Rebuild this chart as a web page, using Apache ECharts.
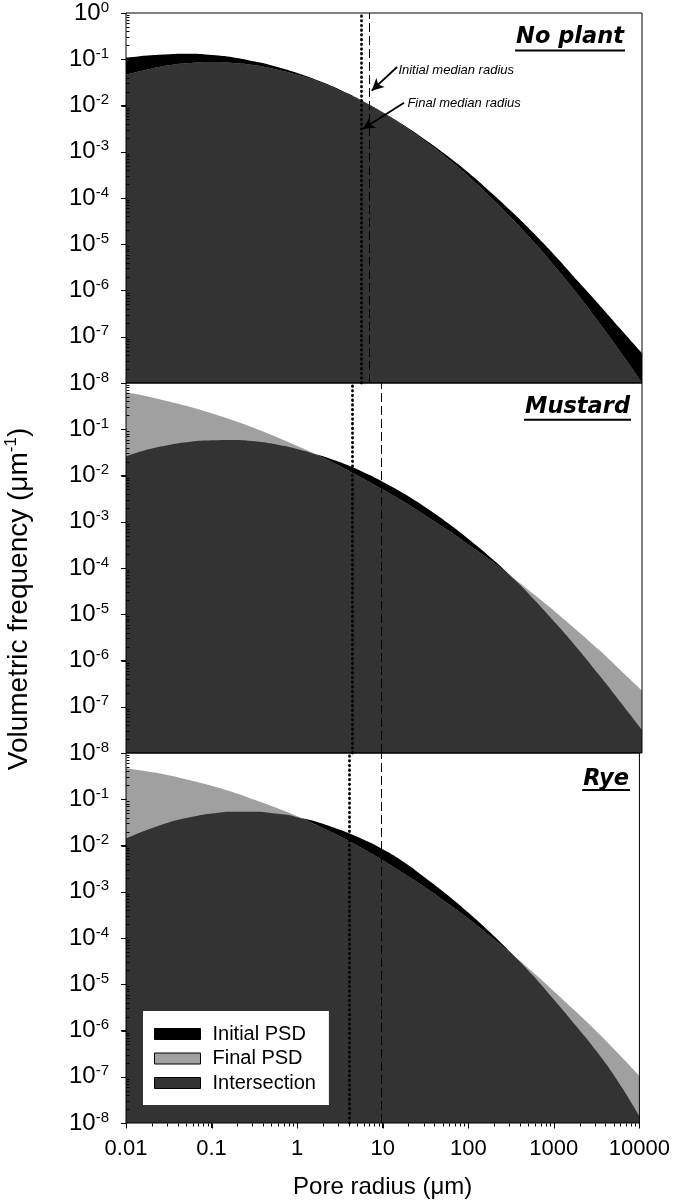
<!DOCTYPE html>
<html><head><meta charset="utf-8">
<script src="https://cdn.jsdelivr.net/npm/echarts@6/dist/echarts.min.js"></script>
<style>html,body{margin:0;padding:0;background:#fff}#chart{width:673px;height:1204px}</style>
</head><body><div id="chart"></div>
<script>
// ---------- DATA ----------
const radius = [0.01, 0.0178, 0.0316, 0.0562, 0.1, 0.178, 0.316, 0.562, 1, 1.78, 3.16, 5.62, 10,
  17.8, 31.6, 56.2, 100, 178, 316, 562, 1000, 1780, 3160, 5620, 10000];
const panelNames = ['No plant', 'Mustard', 'Rye'];
// log10 of volumetric frequency (µm^-1)
const noPlantInitialLog = [-0.97, -0.92, -0.89, -0.88, -0.91, -0.96, -1.05, -1.16, -1.30, -1.47, -1.67, -1.90, -2.16,
  -2.45, -2.77, -3.11, -3.48, -3.89, -4.32, -4.78, -5.27, -5.79, -6.30, -6.83, -7.35];
const noPlantFinalLog = [-1.33, -1.22, -1.13, -1.08, -1.06, -1.08, -1.13, -1.22, -1.34, -1.49, -1.69, -1.91, -2.17,
  -2.47, -2.80, -3.16, -3.56, -4.00, -4.47, -4.97, -5.51, -6.08, -6.69, -7.33, -8.00];
const mustardInitialLog = [-1.59, -1.44, -1.34, -1.27, -1.24, -1.23, -1.26, -1.33, -1.43, -1.56, -1.72, -1.92, -2.15,
  -2.41, -2.71, -3.04, -3.40, -3.79, -4.22, -4.69, -5.20, -5.74, -6.31, -6.90, -7.50];
const mustardFinalLog = [-0.20, -0.29, -0.40, -0.52, -0.66, -0.81, -0.98, -1.17, -1.37, -1.58, -1.81, -2.06, -2.32,
  -2.59, -2.89, -3.19, -3.52, -3.85, -4.21, -4.58, -4.96, -5.36, -5.77, -6.21, -6.65];
const ryeInitialLog = [-1.85, -1.66, -1.50, -1.39, -1.31, -1.27, -1.27, -1.31, -1.39, -1.50, -1.66, -1.85, -2.08,
  -2.36, -2.70, -3.06, -3.45, -3.87, -4.32, -4.80, -5.33, -5.88, -6.45, -7.10, -7.85];
const ryeFinalLog = [-0.33, -0.40, -0.48, -0.59, -0.71, -0.85, -1.01, -1.18, -1.37, -1.58, -1.80, -2.05, -2.32,
  -2.61, -2.91, -3.24, -3.58, -3.95, -4.33, -4.73, -5.15, -5.58, -6.02, -6.49, -6.98];
const initialMedian = [6.8, 9.4, 9.7];
const finalMedian = [5.4, 4.3, 4.1];
const xTickLabels = ['0.01', '0.1', '1', '10', '100', '1000', '10000'];
const legendNames = ['Initial PSD', 'Final PSD', 'Intersection'];
const annotationTexts = ['Initial median radius', 'Final median radius'];

// ---------- BUILD ----------
const initialLogs = [noPlantInitialLog, mustardInitialLog, ryeInitialLog];
const finalLogs = [noPlantFinalLog, mustardFinalLog, ryeFinalLog];
const FONT = '"Liberation Sans", Arial, sans-serif';
const COL = { initial: '#000000', final: '#a0a0a0', inter: '#333333' };
const GRID_TOPS = [13, 383, 753];
const GRID_H = 370, GRID_L = 126, GRID_W = 516;
const X_MIN = 0.01, X_MAX = 10000, Y_MIN = 1e-8, Y_MAX = 1;

// tick values (decades and 2..9 within each decade)
const majorX = [], minorX = [], majorY = [], minorY = [];
for (let e = -2; e <= 4; e++) majorX.push(+Math.pow(10, e).toPrecision(3));
for (let e = -8; e <= 0; e++) majorY.push(+Math.pow(10, e).toPrecision(3));
for (let e = -2; e < 4; e++) for (let k = 2; k <= 9; k++) minorX.push(+(k * Math.pow(10, e)).toPrecision(3));
for (let e = -8; e < 0; e++) for (let k = 2; k <= 9; k++) minorY.push(+(k * Math.pow(10, e)).toPrecision(3));

const grid = GRID_TOPS.map(t => ({ left: GRID_L, width: GRID_W, top: t, height: GRID_H,
  show: true, borderColor: '#000', borderWidth: 1, backgroundColor: 'transparent', z: 6 }));

const xAxis = [], yAxis = [];
GRID_TOPS.forEach((t, p) => {
  const last = p === 2;
  xAxis.push({ type: 'log', logBase: 10, gridIndex: p, min: X_MIN, max: X_MAX, splitNumber: 6, position: 'bottom',
    splitLine: { show: false },
    axisLine: { show: false, onZero: false },
    axisTick: { show: last, length: 5, lineStyle: { color: '#000' } },
    axisLabel: { show: last, margin: 15, fontSize: 22, fontFamily: FONT, color: '#000',
      formatter: v => xTickLabels[Math.round(Math.log10(v)) + 2] },
    name: last ? 'Pore radius (μm)' : '', nameLocation: 'middle', nameGap: 52,
    nameTextStyle: { fontSize: 24, fontFamily: FONT, color: '#000' } });
  yAxis.push({ type: 'log', logBase: 10, gridIndex: p, min: Y_MIN, max: Y_MAX, splitNumber: 8, position: 'left',
    splitLine: { show: false },
    axisLine: { show: false, onZero: false },
    axisTick: { show: true, length: 5, lineStyle: { color: '#000' } },
    axisLabel: { margin: 17, color: '#000',
      formatter: v => { const e = Math.round(Math.log10(v)); if (p > 0 && e === 0) return ''; return '{b|10}{s|' + e + '}'; },
      rich: { b: { fontSize: 24, fontFamily: FONT, color: '#000', lineHeight: 26 },
              s: { fontSize: 15, fontFamily: FONT, color: '#000', verticalAlign: 'top', lineHeight: 14 } } } });
});

function area(name, data, color, p, z) {
  return { name, type: 'line', xAxisIndex: p, yAxisIndex: p, data, smooth: true, symbol: 'none', showSymbol: false,
    silent: true, z, color, itemStyle: { color }, lineStyle: { width: 0, color },
    areaStyle: { color, opacity: 1, origin: Y_MIN } };
}

// tick marks drawn through the axes' scales (custom series)
function tickSeries(p, values, dir, len) {
  const data = values.map(v => dir === 'x' ? [v, Y_MIN] : [X_MIN, v]);
  return { type: 'custom', xAxisIndex: p, yAxisIndex: p, data, silent: true, clip: false, z: 10,
    renderItem: (params, api) => {
      const pt = api.coord([api.value(0), api.value(1)]);
      const x = Math.round(pt[0]) + 0.5, y = Math.round(pt[1]) + 0.5;
      const shape = dir === 'x' ? { x1: x, y1: y, x2: x, y2: y + len } : { x1: x + len, y1: y, x2: x, y2: y };
      return { type: 'line', shape, style: { stroke: '#000', lineWidth: 1 } };
    } };
}

const series = [];
panelNames.forEach((nm, p) => {
  const init = radius.map((r, i) => [r, Math.pow(10, initialLogs[p][i])]);
  const fin = radius.map((r, i) => [r, Math.pow(10, finalLogs[p][i])]);
  const inter = radius.map((r, i) => [r, Math.min(init[i][1], fin[i][1])]);
  series.push(area(legendNames[0], init, COL.initial, p, 2));
  series.push(area(legendNames[1], fin, COL.final, p, 3));
  const s = area(legendNames[2], inter, COL.inter, p, 4);
  const mlData = [
    { xAxis: finalMedian[p], lineStyle: { type: [0.5, 4.2], cap: 'round', width: 2.8, color: '#000' } },
    { xAxis: initialMedian[p], lineStyle: { type: [9, 4], width: 1, color: '#000' } }
  ];
  if (p === 0) {
    mlData.push([{ coord: [14.2, 0.068], symbol: 'none', lineStyle: { width: 1.8, color: '#000', type: 'solid' } },
                 { coord: [7.19, 0.0209], symbol: 'arrow', symbolSize: [9, 12] }]);
    mlData.push([{ coord: [17.1, 0.0115], symbol: 'none', lineStyle: { width: 1.8, color: '#000', type: 'solid' } },
                 { coord: [5.65, 0.0031], symbol: 'arrow', symbolSize: [9, 12] }]);
    s.markPoint = { silent: true, symbol: 'circle', symbolSize: 0,
      label: { show: true, position: 'right', distance: 0, formatter: '{b}', fontStyle: 'italic', fontSize: 13,
        fontFamily: FONT, color: '#000' },
      data: [{ name: annotationTexts[0], coord: [14.7, 0.0577] }, { name: annotationTexts[1], coord: [18.7, 0.0112] }] };
  }
  s.markLine = { silent: true, symbol: 'none', label: { show: false }, emphasis: { disabled: true }, data: mlData };
  series.push(s);
  // y ticks: major outward, minor inward
  series.push(tickSeries(p, majorY, 'y', -5));
  series.push(tickSeries(p, minorY, 'y', 3));
});
// x ticks on the bottom panel (outward)
series.push(tickSeries(2, majorX, 'x', 5));
series.push(tickSeries(2, minorX, 'x', 3));

// panel titles with underline
const TITLE_FONT_SIZE = 22.5;
const titleRight = [624, 630, 629];
const titleY = [36.7, 406.7, 779.2];
const underlineY = [49.5, 418.8, 789];
const ctx = document.createElement('canvas').getContext('2d');
ctx.font = 'italic bold ' + TITLE_FONT_SIZE + 'px "DejaVu Sans"';
const graphic = [];
panelNames.forEach((nm, p) => {
  const w = ctx.measureText(nm).width;
  graphic.push({ type: 'text', x: titleRight[p], y: titleY[p], z: 20,
    style: { text: nm, fontSize: TITLE_FONT_SIZE, fontWeight: 'bold', fontStyle: 'italic', fontFamily: '"DejaVu Sans"',
      fill: '#000', align: 'right', verticalAlign: 'middle' } });
  graphic.push({ type: 'rect', z: 20, shape: { x: titleRight[p] - w - 1, y: underlineY[p], width: w + 2, height: 2 },
    style: { fill: '#000' } });
});
graphic.push({ type: 'text', x: 19, y: 599, rotation: Math.PI / 2, z: 20,
  style: { text: '{a|Volumetric frequency (μm}{s|-1}{a|)}', align: 'center', verticalAlign: 'middle',
    rich: { a: { fontSize: 28, fontFamily: FONT, fill: '#000', lineHeight: 32 },
            s: { fontSize: 17, fontFamily: FONT, fill: '#000', verticalAlign: 'top', lineHeight: 16 } } } });

const chart = echarts.init(document.getElementById('chart'), null, { renderer: 'canvas' });
chart.setOption({
  backgroundColor: '#fff',
  animation: false,
  grid, xAxis, yAxis, series, graphic,
  legend: { data: legendNames, orient: 'vertical', left: 143, top: 1011, icon: 'rect',
    itemWidth: 46, itemHeight: 11, itemGap: 4.5, padding: [13, 13, 12, 11], backgroundColor: '#fff',
    itemStyle: { borderColor: '#000', borderWidth: 1 }, selectedMode: false, z: 10,
    textStyle: { fontSize: 20, fontFamily: FONT, color: '#000', lineHeight: 20, padding: [0, 0, 0, 7] } }
});
</script></body></html>
